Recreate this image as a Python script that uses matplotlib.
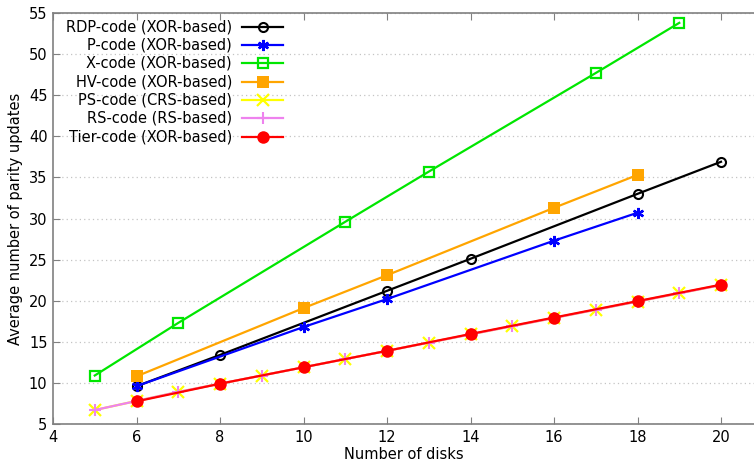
import matplotlib
matplotlib.use("Agg")
import matplotlib.pyplot as plt
from matplotlib.lines import Line2D

# Average number of parity updates per code, by number of disks
rdp_x = [6, 8, 12, 14, 18, 20]
rdp_y = [9.6, 13.4, 21.2, 25.1, 33.0, 36.9]

pcode_x = [6, 10, 12, 16, 18]
pcode_y = [9.6, 16.8, 20.2, 27.3, 30.7]

xcode_x = [5, 7, 11, 13, 17, 19]
xcode_y = [10.9, 17.3, 29.6, 35.7, 47.7, 53.8]

hv_x = [6, 10, 12, 16, 18]
hv_y = [10.8, 19.1, 23.1, 31.3, 35.3]

ps_x = [5, 6, 7, 8, 9, 10, 11, 12, 13, 14, 15, 16, 17, 18, 19, 20]
ps_y = [6.7, 7.8, 8.9, 9.9, 10.9, 11.9, 12.9, 13.9, 14.9, 15.9, 16.9, 17.9, 18.9, 19.9, 20.9, 21.9]

rs_x = [5, 6, 7, 8, 9, 10, 11, 12, 13, 14, 15, 16, 17, 18, 19, 20]
rs_y = [6.7, 7.8, 8.9, 9.9, 10.9, 11.9, 12.9, 13.9, 14.9, 15.9, 16.9, 17.9, 18.9, 19.9, 20.9, 21.9]

tier_x = [6, 8, 10, 12, 14, 16, 18, 20]
tier_y = [7.75, 9.9, 11.9, 13.9, 15.95, 17.95, 19.95, 21.95]

labels = ["RDP-code (XOR-based)", "P-code (XOR-based)", "X-code (XOR-based)",
          "HV-code (XOR-based)", "PS-code (CRS-based)", "RS-code (RS-based)",
          "Tier-code (XOR-based)"]

x_ticks = [4, 6, 8, 10, 12, 14, 16, 18, 20]
y_ticks = [5, 10, 15, 20, 25, 30, 35, 40, 45, 50, 55]

plt.rcParams['font.family'] = ['DejaVu Sans']

W, H = 754, 469
fig = plt.figure(figsize=(W / 100, H / 100), dpi=100)
ax = fig.add_axes([53 / W, (H - 424) / H, 1 - 53 / W, (424 - 13) / H])

lw = 1.6
styles = [
    dict(color="black", marker="o", mfc="none", mec="black", ms=6.5, mew=1.5),
    dict(color="#0000ff", marker=(6, 2, 0), ms=8, mew=1.7),
    dict(color="#00e600", marker="s", mfc="none", mec="#00e600", ms=6.5, mew=1.6),
    dict(color="#ffa500", marker="s", ms=8, mew=0),
    dict(color="#ffff00", marker="x", ms=8.5, mew=1.6),
    dict(color="#ee82ee", marker="+", ms=9, mew=1.5),
    dict(color="#ff0000", marker="o", ms=9, mew=0),
]
series = [(rdp_x, rdp_y), (pcode_x, pcode_y), (xcode_x, xcode_y), (hv_x, hv_y),
          (ps_x, ps_y), (rs_x, rs_y), (tier_x, tier_y)]

for (xs, ys), st, z in zip(series, styles, range(7)):
    ax.plot(xs, ys, lw=lw, zorder=3 + z, clip_on=False, **st)

ax.set_xlim(4, 4 + (W - 53) / 41.75)
ax.set_ylim(5, 55)
ax.set_xticks(x_ticks)
ax.set_yticks(y_ticks)
ax.tick_params(direction="in", length=5, color="#808080", labelsize=10.5,
               top=True, right=False, pad=4)
for s in ["left", "bottom", "top"]:
    ax.spines[s].set_color("#808080")
    ax.spines[s].set_linewidth(1.2)
ax.spines["right"].set_visible(False)
ax.yaxis.grid(True, linestyle=(0, (1, 2.5)), color="#c4c4c4", lw=0.9)
ax.set_axisbelow(True)

ax.set_xlabel("Number of disks", fontsize=10.5, labelpad=2)
ax.set_ylabel("Average number of parity updates", fontsize=10.5, labelpad=4)

# Key: right-aligned labels followed by a line sample with its marker
row_y = [27, 45, 63, 82, 100, 118, 137]
for lab, st, yp in zip(labels, styles, row_y):
    fy = 1 - yp / H
    fig.text(232 / W, fy, lab, ha="right", va="center", fontsize=10.5)
    fig.add_artist(Line2D([242 / W, 283 / W], [fy, fy], transform=fig.transFigure,
                          lw=lw, **{k: v for k, v in st.items() if k not in ("marker", "ms", "mew", "mfc", "mec")}))
    mk = {k: v for k, v in st.items() if k in ("marker", "ms", "mew", "mfc", "mec", "color")}
    fig.add_artist(Line2D([263 / W], [fy], transform=fig.transFigure, lw=0, **mk))

fig.savefig("out.png", dpi=100)
